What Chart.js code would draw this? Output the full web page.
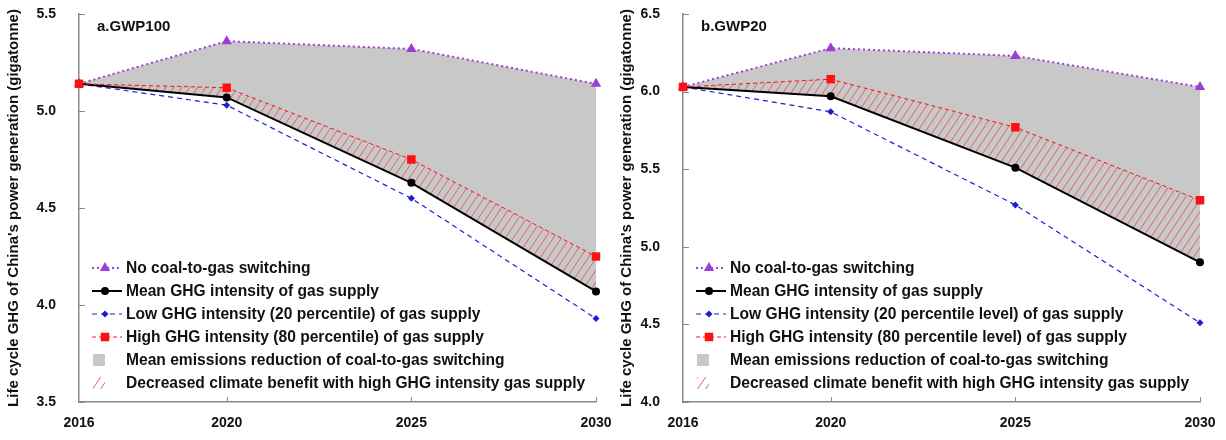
<!DOCTYPE html>
<html>
<head>
<meta charset="utf-8">
<script src="https://cdn.jsdelivr.net/npm/chart.js@4.4.1/dist/chart.umd.min.js"></script>
<style>
  html, body { margin: 0; padding: 0; background: #fff; }
  #wrap { position: relative; width: 1226px; height: 440px; overflow: hidden; }
  canvas { position: absolute; top: 0; }
  #c1 { left: 0; }
  #c2 { left: 613px; }
</style>
</head>
<body>
<div id="wrap">
  <canvas id="c1" width="613" height="440"></canvas>
  <canvas id="c2" width="613" height="440"></canvas>
</div>
<script>
// data
const years = [2016, 2020, 2025, 2030];

const gwp100NoSwitch = [5.14, 5.36, 5.32, 5.14];
const gwp100Mean     = [5.14, 5.07, 4.63, 4.07];
const gwp100Low      = [5.14, 5.03, 4.55, 3.93];
const gwp100High     = [5.14, 5.12, 4.75, 4.25];

const gwp20NoSwitch = [6.03, 6.28, 6.23, 6.03];
const gwp20Mean     = [6.03, 5.97, 5.51, 4.90];
const gwp20Low      = [6.03, 5.87, 5.27, 4.51];
const gwp20High     = [6.03, 6.08, 5.77, 5.30];

const yTicks100 = [3.5, 4.0, 4.5, 5.0, 5.5];
const yTicks20  = [4.0, 4.5, 5.0, 5.5, 6.0, 6.5];

const legend100 = [
  'No coal-to-gas switching',
  'Mean GHG intensity of gas supply',
  'Low GHG intensity (20 percentile) of gas supply',
  'High GHG intensity (80 percentile) of gas supply',
  'Mean emissions reduction of coal-to-gas switching',
  'Decreased climate benefit with high GHG intensity gas supply'
];
const legend20 = [
  'No coal-to-gas switching',
  'Mean GHG intensity of gas supply',
  'Low GHG intensity (20 percentile level) of gas supply',
  'High GHG intensity (80 percentile level) of gas supply',
  'Mean emissions reduction of coal-to-gas switching',
  'Decreased climate benefit with high GHG intensity gas supply'
];

const FONT = "'Liberation Sans', Arial, sans-serif";
const AXIS_COLOR = '#8a8a8a';
const GRAY = '#c8c8c8';
const PURPLE = '#9b3ed8';
const BLUE = '#1c1cd8';
const RED = '#ff1010';

Chart.defaults.font.family = FONT;
Chart.defaults.color = '#111';

function pts(vals) {
  return years.map((y, i) => ({ x: y, y: vals[i] }));
}

function makeHatch(ctx) {
  const w = 8, h = 12;
  const c = document.createElement('canvas');
  c.width = w; c.height = h;
  const g = c.getContext('2d');
  g.strokeStyle = '#e2606a';
  g.lineWidth = 1;
  g.beginPath();
  for (let k = -1; k <= 1; k++) {
    g.moveTo(k * w, h);
    g.lineTo(k * w + w, 0);
  }
  g.stroke();
  return ctx.createPattern(c, 'repeat');
}

// legend, panel label and inside ticks
function panelPlugin(label, legendTexts, yTicks, hatch) {
  return {
    id: 'panel',
    afterDraw(chart) {
      const ctx = chart.ctx;
      const area = chart.chartArea;
      const xs = chart.scales.x, ys = chart.scales.y;

      ctx.save();
      ctx.strokeStyle = AXIS_COLOR;
      ctx.lineWidth = 1;
      ctx.beginPath();
      years.slice(1).forEach(v => {
        const px = Math.round(xs.getPixelForValue(v)) + 0.5;
        ctx.moveTo(px, area.bottom);
        ctx.lineTo(px, area.bottom - 5);
      });
      yTicks.forEach(v => {
        const py = Math.round(ys.getPixelForValue(v)) + 0.5;
        ctx.moveTo(area.left, py);
        ctx.lineTo(area.left + 6, py);
      });
      ctx.stroke();

      ctx.fillStyle = '#111';
      ctx.font = 'bold 15px ' + FONT;
      ctx.textBaseline = 'middle';
      ctx.fillText(label, area.left + 18, area.top + 13);

      // legend rows
      const ds = chart.data.datasets;
      const lineSets = [ds[1], ds[2], ds[3], ds[0]];
      const x0 = area.left + 13;
      const tx = area.left + 47;
      const rowY = i => area.top + 254 + i * 23;
      ctx.font = 'bold 15.6px ' + FONT;
      legendTexts.forEach((t, i) => {
        const y = rowY(i);
        if (i < 4) {
          const d = lineSets[i];
          ctx.save();
          ctx.strokeStyle = d.borderColor;
          ctx.lineWidth = d.borderWidth;
          ctx.setLineDash(d.borderDash || []);
          ctx.beginPath();
          ctx.moveTo(x0, y);
          ctx.lineTo(x0 + 30, y);
          ctx.stroke();
          ctx.restore();
          ctx.fillStyle = d.pointBackgroundColor;
          Chart.helpers.drawPoint(ctx, {
            pointStyle: d.pointStyle, radius: d.pointRadius, rotation: 0, borderWidth: 0
          }, x0 + 13, y);
        } else if (i === 4) {
          ctx.fillStyle = GRAY;
          ctx.fillRect(x0 + 1, y - 6, 12, 12);
        } else {
          ctx.fillStyle = hatch;
          ctx.fillRect(x0 + 1, y - 6, 12, 12);
        }
        ctx.fillStyle = '#111';
        ctx.fillText(t, tx, y + 1);
      });
      ctx.restore();
    }
  };
}

function makeChart(id, cfg) {
  const canvas = document.getElementById(id);
  const ctx = canvas.getContext('2d');
  const hatch = makeHatch(ctx);
  const datasets = [
    { // high GHG intensity, hatch down to the mean line
      data: pts(cfg.high), borderColor: RED, borderWidth: 1, borderDash: [4, 3],
      pointStyle: 'rect', pointRadius: 6, pointBackgroundColor: RED, pointBorderWidth: 0,
      backgroundColor: hatch, fill: 2
    },
    { // no switching, gray down to the mean line
      data: pts(cfg.noSwitch), borderColor: PURPLE, borderWidth: 2, borderDash: [2, 3],
      pointStyle: 'triangle', pointRadius: 6, pointBackgroundColor: PURPLE, pointBorderWidth: 0,
      backgroundColor: GRAY, fill: 2
    },
    {
      data: pts(cfg.mean), borderColor: '#000', borderWidth: 2,
      pointStyle: 'circle', pointRadius: 4, pointBackgroundColor: '#000', pointBorderWidth: 0,
      fill: false
    },
    {
      data: pts(cfg.low), borderColor: BLUE, borderWidth: 1.2, borderDash: [5, 4],
      pointStyle: 'rectRot', pointRadius: 3.5, pointBackgroundColor: BLUE, pointBorderWidth: 0,
      fill: false
    }
  ];

  return new Chart(ctx, {
    type: 'line',
    data: { datasets },
    options: {
      responsive: false,
      animation: false,
      clip: false,
      layout: { padding: { top: 14, right: cfg.padRight, left: 0, bottom: 0 } },
      plugins: {
        legend: { display: false },
        tooltip: { enabled: false },
        filler: { drawTime: 'beforeDatasetsDraw' }
      },
      scales: {
        x: {
          type: 'linear',
          min: 2016, max: 2030,
          afterBuildTicks: s => { s.ticks = years.map(v => ({ value: v })); },
          afterFit: s => { s.height = 38; s.paddingLeft = 0; s.paddingRight = 0; },
          grid: { display: true, drawOnChartArea: false, drawTicks: false, color: 'transparent' },
          border: { display: true, color: AXIS_COLOR, width: 1.5 },
          ticks: { padding: 13, font: { size: 14, weight: 'bold' }, color: '#111', maxRotation: 0,
                   callback: v => String(v) }
        },
        y: {
          min: cfg.yTicks[0], max: cfg.yTicks[cfg.yTicks.length - 1],
          afterBuildTicks: s => { s.ticks = cfg.yTicks.map(v => ({ value: v })); },
          afterFit: s => { s.width = cfg.yWidth; s.paddingTop = 0; s.paddingBottom = 0; },
          grid: { display: true, drawOnChartArea: false, drawTicks: false, color: 'transparent' },
          border: { display: true, color: AXIS_COLOR, width: 1.5 },
          ticks: { padding: 23, font: { size: 14, weight: 'bold' }, color: '#111',
                   callback: v => Number(v).toFixed(1) },
          title: {
            display: true,
            text: "Life cycle GHG of China's power generation (gigatonne)",
            font: { size: 15, weight: 'bold' }, color: '#111',
            padding: { top: 5, bottom: 0 }
          }
        }
      }
    },
    plugins: [panelPlugin(cfg.label, cfg.legend, cfg.yTicks, hatch)]
  });
}

makeChart('c1', {
  label: 'a.GWP100', legend: legend100, yTicks: yTicks100,
  noSwitch: gwp100NoSwitch, mean: gwp100Mean, low: gwp100Low, high: gwp100High,
  yWidth: 79, padRight: 17
});
makeChart('c2', {
  label: 'b.GWP20', legend: legend20, yTicks: yTicks20,
  noSwitch: gwp20NoSwitch, mean: gwp20Mean, low: gwp20Low, high: gwp20High,
  yWidth: 70, padRight: 26
});
</script>
</body>
</html>
